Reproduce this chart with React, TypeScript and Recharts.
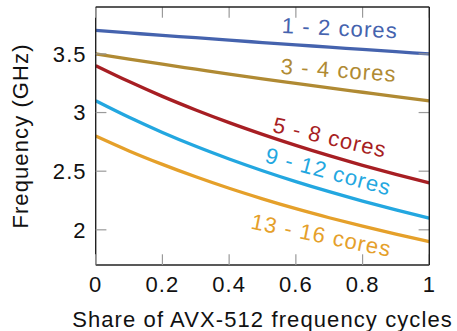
import React from "react";
import { LineChart, Line, XAxis, YAxis, ReferenceDot } from "recharts";

const shares = [0, 0.1, 0.2, 0.3, 0.4, 0.5, 0.6, 0.7, 0.8, 0.9, 1];
const cores1to2 = [3.7, 3.679, 3.658, 3.638, 3.617, 3.597, 3.577, 3.558, 3.538, 3.519, 3.5];
const cores3to4 = [3.5, 3.455, 3.412, 3.37, 3.328, 3.288, 3.249, 3.21, 3.173, 3.136, 3.1];
const cores5to8 = [3.4, 3.264, 3.138, 3.022, 2.914, 2.814, 2.72, 2.632, 2.55, 2.473, 2.4];
const cores9to12 = [3.1, 2.959, 2.83, 2.712, 2.604, 2.504, 2.411, 2.325, 2.245, 2.17, 2.1];
const cores13to16 = [2.8, 2.673, 2.558, 2.452, 2.354, 2.264, 2.18, 2.103, 2.031, 1.963, 1.9];

const seriesNames = ["1 - 2 cores", "3 - 4 cores", "5 - 8 cores", "9 - 12 cores", "13 - 16 cores"];
const xTicks = [0, 0.2, 0.4, 0.6, 0.8, 1];
const yTicks = [2, 2.5, 3, 3.5];
const xDomain = [0, 1];
const yDomain = [1.7, 3.9];

const data = shares.map((s, i) => ({
  s,
  a: cores1to2[i],
  b: cores3to4[i],
  c: cores5to8[i],
  d: cores9to12[i],
  e: cores13to16[i],
}));

const keys = ["a", "b", "c", "d", "e"];
const colors = ["#4563AE", "#B08A33", "#A71E23", "#23A7E0", "#E5A02A"];
// label anchors (data coords) and rotation
const labelPos = [
  { x: 0.731, y: 3.655, angle: 2.6 },
  { x: 0.727, y: 3.297, angle: 4 },
  { x: 0.697, y: 2.725, angle: 13 },
  { x: 0.692, y: 2.435, angle: 15 },
  { x: 0.672, y: 1.89, angle: 11.5 },
];

const W = 457;
const H = 331;
const MARGIN = { top: 7, right: 27.7, bottom: 0, left: 0 };
const Y_AXIS_W = 95.7;
const X_AXIS_H = 66;
const PLOT_X = MARGIN.left + Y_AXIS_W;
const PLOT_Y = MARGIN.top;
const PLOT_W = W - MARGIN.left - MARGIN.right - Y_AXIS_W;
const PLOT_H = H - MARGIN.top - MARGIN.bottom - X_AXIS_H;

const FONT = "'Liberation Sans', Arial, Helvetica, sans-serif";
const FS = 22;
const LS = "1.1px";
const TICK_LEN = 10.7;
const TICK_COLOR = "#9a9a9a";
const AXIS_COLOR = "#222";
const fmt = (v: number) => String(v);

const px = (v: number) => PLOT_X + ((v - xDomain[0]) / (xDomain[1] - xDomain[0])) * PLOT_W;
const py = (v: number) => PLOT_Y + PLOT_H - ((v - yDomain[0]) / (yDomain[1] - yDomain[0])) * PLOT_H;

const XTickBottom = (props: any) => {
  const { x, y, payload } = props;
  return (
    <text x={x} y={y + 27.3} textAnchor="middle" fontFamily={FONT} fontSize={FS} letterSpacing={LS} fill="#111">
      {fmt(payload.value)}
    </text>
  );
};
const YTickLeft = (props: any) => {
  const { x, y, payload } = props;
  return (
    <text x={x - 9} y={y + 7.8} textAnchor="end" fontFamily={FONT} fontSize={FS} letterSpacing={LS} fill="#111">
      {fmt(payload.value)}
    </text>
  );
};

const makeLabel = (text: string, color: string, angle: number) => (props: any) => {
  const { cx, cy } = props;
  return (
    <text
      x={cx}
      y={cy}
      textAnchor="middle"
      fontFamily={FONT}
      fontSize={FS}
      letterSpacing={LS}
      fill={color}
      transform={`rotate(${angle} ${cx} ${cy})`}
    >
      {text}
    </text>
  );
};

// Frame: top/right borders and inward tick marks on all four sides
const Frame = () => {
  const left = PLOT_X;
  const right = PLOT_X + PLOT_W;
  const top = PLOT_Y;
  const bottom = PLOT_Y + PLOT_H;
  return (
    <svg
      width={W}
      height={H}
      style={{ position: "absolute", left: 0, top: 0, pointerEvents: "none" }}
    >
      {xTicks.map((v) => (
        <g key={"x" + v}>
          <line x1={px(v)} x2={px(v)} y1={bottom} y2={bottom - TICK_LEN} stroke={TICK_COLOR} strokeWidth={1.2} />
          <line x1={px(v)} x2={px(v)} y1={top} y2={top + TICK_LEN} stroke={TICK_COLOR} strokeWidth={1.2} />
        </g>
      ))}
      {yTicks.map((v) => (
        <g key={"y" + v}>
          <line x1={left} x2={left + TICK_LEN} y1={py(v)} y2={py(v)} stroke={TICK_COLOR} strokeWidth={1.2} />
          <line x1={right} x2={right - TICK_LEN} y1={py(v)} y2={py(v)} stroke={TICK_COLOR} strokeWidth={1.2} />
        </g>
      ))}
      <line x1={left} x2={right} y1={top} y2={top} stroke={AXIS_COLOR} strokeWidth={1.4} />
      <line x1={right} x2={right} y1={top} y2={bottom} stroke={AXIS_COLOR} strokeWidth={1.4} />
    </svg>
  );
};

export default function App() {
  return (
    <div style={{ position: "absolute", left: 0, top: 0, width: W, height: H, background: "#fff" }}>
      <LineChart width={W} height={H} data={data} margin={MARGIN}>
        <XAxis
          dataKey="s"
          type="number"
          domain={xDomain}
          ticks={xTicks}
          tickSize={0}
          tickMargin={0}
          tickLine={false}
          height={X_AXIS_H}
          axisLine={{ stroke: AXIS_COLOR, strokeWidth: 1.4 }}
          tick={<XTickBottom />}
          interval={0}
          label={(p: any) => {
            const vb = p.viewBox;
            return (
              <text
                x={vb.x + vb.width / 2}
                y={326.7}
                textAnchor="middle"
                fontFamily={FONT}
                fontSize={FS}
                letterSpacing={LS}
                fill="#111"
              >
                Share of AVX-512 frequency cycles
              </text>
            );
          }}
        />
        <YAxis
          type="number"
          domain={yDomain}
          ticks={yTicks}
          tickSize={0}
          tickMargin={0}
          tickLine={false}
          width={Y_AXIS_W}
          axisLine={{ stroke: AXIS_COLOR, strokeWidth: 1.4 }}
          tick={<YTickLeft />}
          interval={0}
          label={(p: any) => {
            const vb = p.viewBox;
            const cy = vb.y + vb.height / 2;
            return (
              <text
                x={28}
                y={cy}
                textAnchor="middle"
                fontFamily={FONT}
                fontSize={FS}
                letterSpacing={LS}
                fill="#111"
                transform={`rotate(-90 28 ${cy})`}
              >
                Frequency (GHz)
              </text>
            );
          }}
        />
        {keys.map((k, i) => (
          <Line
            key={k}
            dataKey={k}
            type="monotone"
            stroke={colors[i]}
            strokeWidth={3.3}
            dot={false}
            isAnimationActive={false}
          />
        ))}
        {labelPos.map((lp, i) => (
          <ReferenceDot
            key={seriesNames[i]}
            x={lp.x}
            y={lp.y}
            r={0}
            ifOverflow="visible"
            shape={makeLabel(seriesNames[i], colors[i], lp.angle)}
          />
        ))}
      </LineChart>
      <Frame />
    </div>
  );
}
